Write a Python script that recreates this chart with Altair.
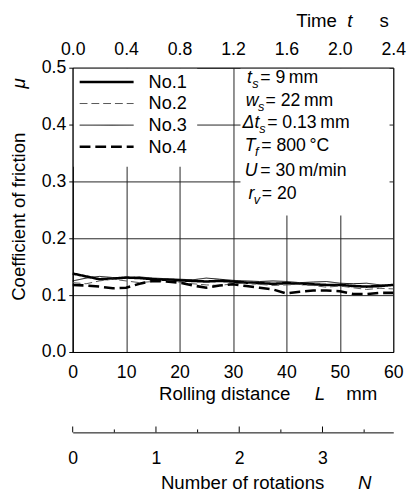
import altair as alt
import pandas as pd

# ---------------- data ----------------
L_mm = [0, 2.5, 5, 7.5, 10, 12.5, 15, 17.5, 20, 22.5, 25, 27.5, 30,
        32.5, 35, 37.5, 40, 42.5, 45, 47.5, 50, 52.5, 55, 57.5, 60]
no1 = [0.138, 0.133, 0.128, 0.129, 0.131, 0.130, 0.128, 0.127, 0.126, 0.125, 0.124, 0.125, 0.124,
       0.122, 0.121, 0.120, 0.121, 0.120, 0.119, 0.118, 0.118, 0.116, 0.115, 0.116, 0.118]
no2 = [0.122, 0.120, 0.125, 0.128, 0.125, 0.122, 0.124, 0.126, 0.123, 0.120, 0.118, 0.117, 0.120,
       0.121, 0.119, 0.117, 0.118, 0.119, 0.117, 0.114, 0.116, 0.113, 0.110, 0.112, 0.111]
no3 = [0.125, 0.130, 0.133, 0.131, 0.130, 0.132, 0.130, 0.129, 0.128, 0.127, 0.130, 0.128, 0.126,
       0.125, 0.124, 0.125, 0.124, 0.122, 0.123, 0.124, 0.121, 0.120, 0.121, 0.118, 0.117]
no4 = [0.118, 0.117, 0.115, 0.112, 0.113, 0.120, 0.125, 0.124, 0.122, 0.117, 0.113, 0.117, 0.119,
       0.116, 0.113, 0.110, 0.103, 0.106, 0.108, 0.108, 0.107, 0.102, 0.102, 0.104, 0.104]
series_names = ["No.1", "No.2", "No.3", "No.4"]

L_ticks = [0, 10, 20, 30, 40, 50, 60]
mu_ticks = [0.0, 0.1, 0.2, 0.3, 0.4, 0.5]
time_ticks = [0.0, 0.4, 0.8, 1.2, 1.6, 2.0, 2.4]
N_major = [0, 1, 2, 3]
N_minor = [0.5, 1.5, 2.5, 3.5]
N_max = 3.85

# line styles per series
series_dash = [[1, 0], [8, 4], [1, 0], [11, 5]]
series_width = [2.6, 1.0, 1.0, 2.6]
series_color = ["#000000", "#555555", "#000000", "#000000"]

# legend entries (position in data units)
legend_mu = [0.475, 0.437, 0.399, 0.361]
legend_L1 = 1.3
legend_L2 = 11.4
legend_text_L = 14.2

# experimental conditions text
cond_sym = ["t", "w", "\u0394t", "T", "U", "r"]
cond_sub = ["s", "s", "s", "f", "", "v"]
cond_rest = ["= 9\u2009mm", "= 22\u2009mm", "= 0.13\u2009mm", "= 800\u2009\u00b0C", "= 30\u2009m/min", "= 20"]
cond_mu = [0.481, 0.441, 0.402, 0.362, 0.319, 0.278]
cond_sym_L = [32.6, 32.4, 31.8, 32.2, 32.2, 32.9]
cond_sub_L = [33.6, 34.7, 34.9, 34.1, 33.9, 33.9]
cond_rest_L = [35.1, 36.1, 36.4, 35.3, 35.1, 35.4]

# white panels behind legend and condition text
mask_L1 = [0.2, 31.4]
mask_L2 = [23.3, 59.3]
mask_mu1 = [0.326, 0.240]
mask_mu2 = [0.498, 0.498]

FONT = "Liberation Sans"
W, H = 327, 290

# ---------------- tables ----------------
rows = []
for name, vals, w in zip(series_names, [no1, no2, no3, no4], series_width):
    for l, v in zip(L_mm, vals):
        rows.append({"L": l, "mu": v, "series": name, "sw": w})
df = pd.DataFrame(rows)
leg_df = pd.DataFrame({"series": series_names, "mu": legend_mu, "sw": series_width,
                       "L1": [legend_L1] * 4, "L2": [legend_L2] * 4,
                       "Lt": [legend_text_L] * 4})
cond_df = pd.DataFrame({"sym": cond_sym, "sub": cond_sub, "rest": cond_rest, "mu": cond_mu,
                        "Ls": cond_sym_L, "Lb": cond_sub_L, "Lr": cond_rest_L})
mask_df = pd.DataFrame({"L1": mask_L1, "L2": mask_L2, "m1": mask_mu1, "m2": mask_mu2})
time_df = pd.DataFrame({"t": time_ticks})
Nmaj_df = pd.DataFrame({"N": N_major})
Nmin_df = pd.DataFrame({"N": N_minor})

# ---------------- scales / axes ----------------
xL = alt.Scale(domain=[0, 60], nice=False, zero=False)
yMu = alt.Scale(domain=[0, 0.5], nice=False)
axL = alt.Axis(values=L_ticks, title=None, grid=True, ticks=False, tickSize=0,
               labelPadding=12, domain=True, format="d", labelFlush=False)
axMu = alt.Axis(values=mu_ticks, title=None, grid=True, format=".1f", tickSize=4,
                labelPadding=3, domain=True, labelFlush=False)

def X(f):
    return alt.X(f, scale=xL, axis=axL)

def Y(f):
    return alt.Y(f, scale=yMu, axis=axMu)

dash = alt.StrokeDash("series:N", scale=alt.Scale(domain=series_names, range=series_dash),
                      legend=None)
sw = alt.StrokeWidth("sw:Q", scale=None, legend=None)
col = alt.Color("series:N", scale=alt.Scale(domain=series_names, range=series_color),
                legend=None)

masks = alt.Chart(mask_df).mark_rect(fill="white", stroke=None).encode(
    x=X("L1:Q"), x2="L2:Q", y=Y("m1:Q"), y2="m2:Q")

lines = alt.Chart(df).mark_line(strokeCap="butt").encode(
    x=X("L:Q"), y=Y("mu:Q"), detail="series:N",
    strokeDash=dash, strokeWidth=sw, color=col)

leg_lines = alt.Chart(leg_df).mark_rule(strokeCap="butt").encode(
    x=X("L1:Q"), x2="L2:Q", y=Y("mu:Q"), strokeDash=dash, strokeWidth=sw, color=col)
leg_text = alt.Chart(leg_df).mark_text(align="left", baseline="middle", fontSize=18.5).encode(
    x=X("Lt:Q"), y=Y("mu:Q"), text="series:N")

cond_a = alt.Chart(cond_df).mark_text(align="left", baseline="middle", fontSize=18,
                                      fontStyle="italic").encode(
    x=X("Ls:Q"), y=Y("mu:Q"), text="sym:N")
cond_b = alt.Chart(cond_df).mark_text(align="left", baseline="middle", fontSize=13,
                                      fontStyle="italic", dy=6).encode(
    x=X("Lb:Q"), y=Y("mu:Q"), text="sub:N")
cond_c = alt.Chart(cond_df).mark_text(align="left", baseline="middle", fontSize=18).encode(
    x=X("Lr:Q"), y=Y("mu:Q"), text="rest:N")

main = alt.layer(masks, lines, leg_lines, leg_text, cond_a, cond_b, cond_c)

time_layer = alt.Chart(time_df).mark_point(opacity=0).encode(
    x=alt.X("t:Q", scale=alt.Scale(domain=[0, 2.4], nice=False, zero=False),
            axis=alt.Axis(orient="top", values=time_ticks, format=".1f", title=None,
                          ticks=False, tickSize=0, labelPadding=9, domain=False,
                          grid=False, labelFlush=False)))

xN = alt.Scale(domain=[0, N_max], nice=False, zero=False)
axN = alt.Axis(orient="bottom", offset=82, values=N_major, format="d", title=None,
               ticks=False, tickSize=0, labelPadding=18, domain=True, grid=False,
               labelFlush=False)
n_major = alt.Chart(Nmaj_df).mark_rule(color="black", strokeWidth=1).encode(
    x=alt.X("N:Q", scale=xN, axis=axN), y=alt.value(H + 82 - 6), y2=alt.value(H + 82))
n_minor = alt.Chart(Nmin_df).mark_rule(color="black", strokeWidth=1).encode(
    x=alt.X("N:Q", scale=xN, axis=axN), y=alt.value(H + 82 - 3), y2=alt.value(H + 82))
n_layer = alt.layer(n_major, n_minor)

# axis titles (mixed upright / italic pieces)
title_text = ["Time", "t", "s", "Rolling distance", "L", "mm", "Number of rotations", "N"]
title_x = [228, 280, 313, 88, 247, 279, 90, 291]
title_y = [-48, -48, -48, 333, 333, 333, 424, 424]
title_it = [False, True, False, False, True, False, False, True]

def piece(txt, x, y, italic, angle=0, align="left"):
    return alt.Chart(pd.DataFrame({"s": [txt]})).mark_text(
        align=align, baseline="middle", fontSize=19, angle=angle,
        fontStyle="italic" if italic else "normal").encode(
        x=alt.value(x), y=alt.value(y), text="s:N")

titles = [piece(t, x, y, it) for t, x, y, it in zip(title_text, title_x, title_y, title_it)]
titles.append(piece("Coefficient of friction", -55, 152, False, angle=270, align="center"))
titles.append(piece("\u03bc", -55, 16, True, angle=270, align="center"))

chart = alt.layer(main, time_layer, n_layer, *titles).resolve_scale(
    x="independent", y="independent"
).properties(
    width=W, height=H,
    autosize=alt.AutoSizeParams(type="none"),
    padding={"left": 66, "top": 56, "right": 14, "bottom": 143},
).configure_view(
    stroke="black", strokeWidth=1
).configure_axis(
    labelFont=FONT, labelFontSize=18, labelColor="black",
    domainColor="black", tickColor="black", gridColor="#222222", gridWidth=1,
    domainWidth=1
).configure_text(
    font=FONT, color="black"
)

chart.save("out.html", embed_options={"renderer": "svg", "actions": False})
